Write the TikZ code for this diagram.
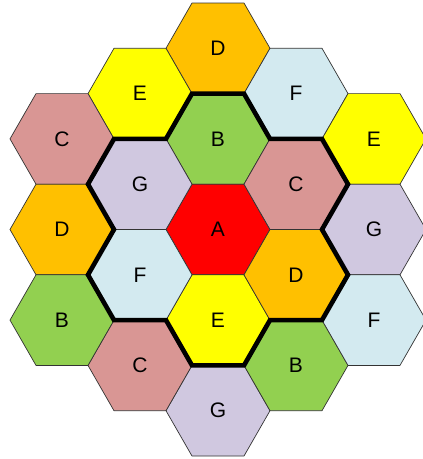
\documentclass[tikz,border=0pt]{standalone}
\usepackage{fontspec}
\setmainfont{Liberation Sans}

\definecolor{cellA}{HTML}{FF0000}
\definecolor{cellB}{HTML}{92D050}
\definecolor{cellC}{HTML}{D99694}
\definecolor{cellD}{HTML}{FFC000}
\definecolor{cellE}{HTML}{FFFF00}
\definecolor{cellF}{HTML}{D3EAF0}
\definecolor{cellG}{HTML}{D0C8E0}

\begin{document}
\begin{tikzpicture}[line cap=round,line join=round,x=78pt,y=45.3pt,
    cell/.style={draw=black!80,line width=0.7pt},
    lbl/.style={font=\fontsize{21}{25}\selectfont,text=black},
    cluster/.style={line width=4.6pt,line join=miter,line cap=butt}]
  \useasboundingbox (-218pt,-229.5pt) rectangle (205pt,229.5pt);

  % Cells (column, half row, letter)
  \foreach \cx/\cy/\c [count=\i] in {0/4/D, 0/2/B, 0/0/A, 0/-2/E, 0/-4/G,
      -1/3/E, -1/1/G, -1/-1/F, -1/-3/C,
      1/3/F, 1/1/C, 1/-1/D, 1/-3/B,
      -2/2/C, -2/0/D, -2/-2/B,
      2/2/E, 2/0/G, 2/-2/F}
  {
    \filldraw[cell,fill=cell\c] (\cx,\cy) +(-2/3,0) -- +(-1/3,1) -- +(1/3,1)
      -- +(2/3,0) -- +(1/3,-1) -- +(-1/3,-1) -- cycle;
    \node[lbl] (hex\i) at (\cx,\cy) {\c};
  }

  %% Cluster A + neighbours
  \draw[cluster] (-1/3,3) -- (1/3,3) -- (2/3,2) -- (4/3,2) -- (5/3,1) -- (4/3,0)
    -- (5/3,-1) -- (4/3,-2) -- (2/3,-2) -- (1/3,-3) -- (-1/3,-3) -- (-2/3,-2)
    -- (-4/3,-2) -- (-5/3,-1) -- (-4/3,0) -- (-5/3,1) -- (-4/3,2) -- (-2/3,2)
    -- cycle;
\end{tikzpicture}
\end{document}
